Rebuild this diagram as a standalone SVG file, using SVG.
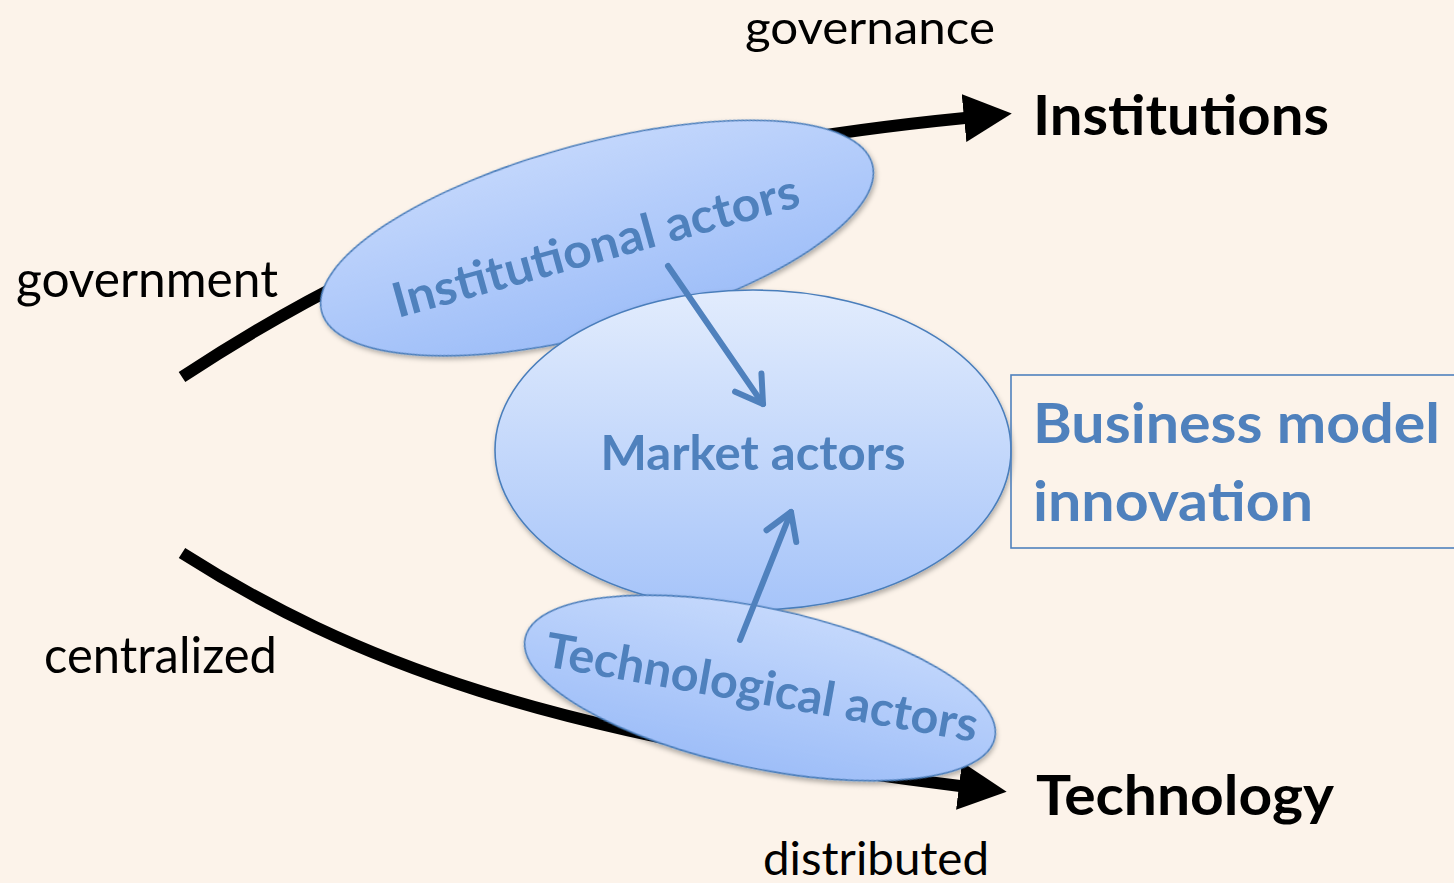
<svg xmlns="http://www.w3.org/2000/svg" width="1454" height="883" viewBox="0 0 1454 883">
<defs>
<style>
.lbl{font-family:Lato,"Liberation Sans",sans-serif;fill:#000}
.reg{font-size:50px}
.edge{font-size:47px}
.big{font-size:55px;font-weight:bold}
.blue{font-family:Lato,"Liberation Sans",sans-serif;font-weight:bold;fill:#4F81BD}
.ell{stroke:#4A7EBB;stroke-width:1.6;filter:url(#sh)}
.axis{fill:none;stroke:#000;stroke-width:12}
.link{fill:none;stroke:#4F81BD;stroke-width:6;stroke-linecap:round}
</style>
<linearGradient id="gInst" x1="0" y1="0" x2="0" y2="1">
<stop offset="0" stop-color="#C2D6FC"/>
<stop offset="1" stop-color="#9EBEF8"/>
</linearGradient>
<linearGradient id="gMkt" x1="0" y1="0" x2="0" y2="1">
<stop offset="0" stop-color="#E2ECFD"/>
<stop offset="1" stop-color="#A6C4F9"/>
</linearGradient>
<linearGradient id="gTech" x1="0" y1="0" x2="0" y2="1">
<stop offset="0" stop-color="#C4D8FC"/>
<stop offset="1" stop-color="#9EBEF8"/>
</linearGradient>
<filter id="sh" x="-10%" y="-10%" width="120%" height="130%">
<feDropShadow dx="1" dy="3" stdDeviation="2.5" flood-color="#000" flood-opacity="0.3"/>
</filter>
<marker id="blk" markerUnits="userSpaceOnUse" markerWidth="50" markerHeight="50" viewBox="0 -25 50 50" refX="1" refY="0" orient="auto">
<path d="M0,-24 L48,0 L0,24 z" fill="#000"/>
</marker>
<marker id="chev" markerUnits="userSpaceOnUse" markerWidth="40" markerHeight="40" viewBox="-32 -20 40 40" refX="0" refY="0" orient="auto">
<path d="M-26,-16 L0,0 L-26,16" fill="none" stroke="#4F81BD" stroke-width="6" stroke-linecap="round" stroke-linejoin="round"/>
</marker>
</defs>
<rect width="1454" height="883" fill="#FCF3EA"/>

<g id="axes">
<path class="axis" d="M182,377 C420,220 640,150 965,118" marker-end="url(#blk)"/>
<path class="axis" d="M182,553 C350,660 545,735 960,786" marker-end="url(#blk)"/>
</g>

<g id="labels">
<text class="lbl edge" x="745" y="44" textLength="250" lengthAdjust="spacingAndGlyphs">governance</text>
<text class="lbl big" x="1033" y="135" textLength="296" lengthAdjust="spacingAndGlyphs">Institutions</text>
<text class="lbl reg" x="16" y="297" textLength="262" lengthAdjust="spacingAndGlyphs">government</text>
<text class="lbl reg" x="44" y="673" textLength="233" lengthAdjust="spacingAndGlyphs">centralized</text>
<text class="lbl big" x="1036" y="815" textLength="298" lengthAdjust="spacingAndGlyphs">Technology</text>
<text class="lbl edge" x="763" y="875" textLength="226" lengthAdjust="spacingAndGlyphs">distributed</text>
</g>

<g id="institutional">
<ellipse class="ell" cx="597" cy="238" rx="285" ry="95" transform="rotate(-15 597 238)" fill="url(#gInst)"/>
<text class="blue" font-size="48" x="0" y="0" text-anchor="middle" transform="translate(600 262) rotate(-15.5)" textLength="420" lengthAdjust="spacingAndGlyphs">Institutional actors</text>
</g>

<g id="market">
<ellipse class="ell" cx="753" cy="450" rx="258" ry="160" fill="url(#gMkt)"/>
<text class="blue" font-size="48" x="753" y="470" text-anchor="middle" textLength="305" lengthAdjust="spacingAndGlyphs">Market actors</text>
</g>

<g id="technological">
<ellipse class="ell" cx="760" cy="688" rx="240" ry="80" transform="rotate(12 760 688)" fill="url(#gTech)"/>
<text class="blue" font-size="48" x="0" y="0" text-anchor="middle" transform="translate(759 704) rotate(10)" textLength="438" lengthAdjust="spacingAndGlyphs">Technological actors</text>
</g>

<g id="bmi">
<rect x="1011" y="375" width="460" height="173" fill="none" stroke="#4F81BD" stroke-width="1.6"/>
<text class="blue" font-size="55" x="1033" y="443" textLength="407" lengthAdjust="spacingAndGlyphs">Business model</text>
<text class="blue" font-size="55" x="1033" y="521" textLength="280" lengthAdjust="spacingAndGlyphs">innovation</text>
</g>

<g id="connectors">
<path class="link" d="M668,266 L763,404" marker-end="url(#chev)"/>
<path class="link" d="M740,640 L791,512" marker-end="url(#chev)"/>
</g>
</svg>
